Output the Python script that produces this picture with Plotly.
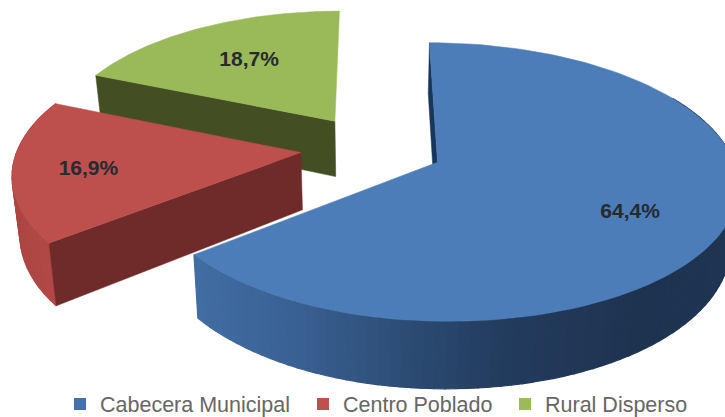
import math
import plotly.graph_objects as go

# ---- data ----
categories = ["Cabecera Municipal", "Centro Poblado", "Rural Disperso"]
values = [64.4, 16.9, 18.7]
value_labels = ["64,4%", "16,9%", "18,7%"]

# ---- styles ----
top_colors = ["#4c7db8", "#bd4f4c", "#9aba5a"]
radial_wall_colors = ["#17365d", "#6e2b29", "#434f22"]
legend_colors = ["#4472b0", "#c0504d", "#9bbb59"]
blue_wall_stops = [(190, (66, 110, 165)), (300, (57, 96, 146)), (390, (46, 79, 120)),
                   (500, (35, 60, 94)), (640, (30, 51, 80)), (730, (31, 53, 83))]
red_wall_stops = [(0, (170, 68, 66)), (60, (178, 73, 71))]

# ---- projection of the exploded pie (view geometry) ----
CX, CY, RX_LEFT, RX_RIGHT, RY, K = 373.0, 148.0, 283.0, 292.0, 132.5, 0.14
EXPLODE, DEPTH, ZSHRINK = [0.242, 0.256, 0.25], 57.0, 0.022
LABEL_FRAC = [0.70, 0.74, 0.62]
LABEL_TURN = [4.0, -2.0, 0.0]
LEGEND_X = [60, 303, 505]


def project(X, Y, lower=False):
    f = 1.0 / (1.0 + K * Y)
    sx, sy = (RX_LEFT if X < 0 else RX_RIGHT) * X * f, RY * Y * f
    if lower:
        sx *= 1 - ZSHRINK
        sy -= DEPTH * f
    return CX + sx, CY - sy


def world(theta, r, mid, e):
    return (e * math.sin(mid) + r * math.sin(theta),
            e * math.cos(mid) + r * math.cos(theta))


def lerp_color(stops, x):
    c = stops[-1][1] if x >= stops[-1][0] else stops[0][1]
    for (x0, c0), (x1, c1) in zip(stops, stops[1:]):
        if x0 <= x <= x1:
            t = (x - x0) / (x1 - x0)
            c = tuple(a + (b - a) * t for a, b in zip(c0, c1))
            break
    return "rgb(%d,%d,%d)" % tuple(round(v) for v in c)


fig = go.Figure()


def poly(points, color, seam=1.5):
    xs = [p[0] for p in points] + [points[0][0]]
    ys = [p[1] for p in points] + [points[0][1]]
    fig.add_trace(go.Scatter(x=xs, y=ys, mode="lines", fill="toself", fillcolor=color,
                             line=dict(color=color, width=seam), hoverinfo="skip",
                             showlegend=False))


total = sum(values)
spans = []
start = 0.0
for v in values:
    end = start + 2 * math.pi * v / total
    spans.append((start, end))
    start = end

# painter's order: rear slice first
for i in (2, 1, 0):
    a0, a1 = spans[i]
    mid = (a0 + a1) / 2
    e = EXPLODE[i]
    apex = world(mid, 0.0, mid, e)

    # curved outer wall, split into strips for the shading
    if i != 2:
        lo, hi = (math.radians(60), a1) if i == 0 else (a0, a1)
        n = 90 if i == 0 else 24
        for j in range(n):
            t0 = lo + (hi - lo) * j / n
            t1 = lo + (hi - lo) * (j + 1) / n
            p0, p1 = world(t0, 1.0, mid, e), world(t1, 1.0, mid, e)
            q = [project(*p0), project(*p1), project(*p1, lower=True), project(*p0, lower=True)]
            xm = sum(pt[0] for pt in q) / 4
            poly(q, lerp_color(blue_wall_stops if i == 0 else red_wall_stops, xm), seam=1.2)

    # flat radial wall at the slice's opening edge
    outer = world(a0, 1.0, mid, e)
    poly([project(*apex), project(*outer), project(*outer, lower=True),
          project(*apex, lower=True)], radial_wall_colors[i], seam=0.5)

    # top face
    n = 120
    pts = [project(*apex)]
    for j in range(n + 1):
        t = a0 + (a1 - a0) * j / n
        pts.append(project(*world(t, 1.0, mid, e)))
    poly(pts, top_colors[i], seam=0.5)

# value labels
for i in range(3):
    a0, a1 = spans[i]
    mid = (a0 + a1) / 2
    lx, ly = project(*world(mid + math.radians(LABEL_TURN[i]), LABEL_FRAC[i], mid, EXPLODE[i]))
    fig.add_trace(go.Scatter(x=[lx], y=[ly], mode="text", text=[value_labels[i]],
                             textfont=dict(family="Liberation Sans", size=21, color="#262b30",
                                           weight="bold"),
                             textposition="middle center", hoverinfo="skip", showlegend=False))

# legend entries, one legend per item so each sits at its own place
legend_keys = ["legend", "legend2", "legend3"]
for name, color, key in zip(categories, legend_colors, legend_keys):
    fig.add_trace(go.Scatter(x=[None], y=[None], mode="markers", name=name, legend=key,
                             marker=dict(symbol="square", size=12, color=color)))

legend_layout = {
    key: dict(orientation="h", x=lx / 725, xanchor="left", y=13 / 417, yanchor="middle",
              font=dict(family="Liberation Sans", size=21.5, color="#666666"),
              itemsizing="constant", bgcolor="rgba(0,0,0,0)")
    for key, lx in zip(legend_keys, LEGEND_X)
}

fig.update_layout(
    width=725, height=417,
    margin=dict(l=0, r=0, t=0, b=0, autoexpand=False),
    paper_bgcolor="white", plot_bgcolor="white",
    xaxis=dict(range=[0, 725], visible=False, fixedrange=True),
    yaxis=dict(range=[417, 0], visible=False, fixedrange=True),
    **legend_layout,
)
fig.write_html("out.html", config={"displayModeBar": False},
               post_script="document.body.style.margin='0';document.documentElement.style.overflow='hidden';")
